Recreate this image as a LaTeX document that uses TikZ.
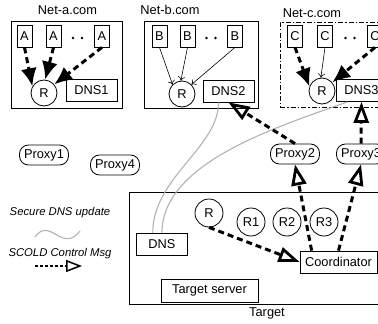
\documentclass[tikz,border=0pt]{standalone}
\usepackage{fontspec}
\setmainfont{Liberation Sans}
\usepackage{tikz}
\usetikzlibrary{arrows.meta, positioning}
\tikzstyle{host} = [rectangle, draw, minimum width=15pt, minimum height=22pt,
                 inner sep=1pt]
\tikzstyle{resolver} = [circle, draw, fill=white, minimum size=26pt, inner sep=0pt]
\tikzstyle{server} = [rectangle, draw, fill=white, minimum width=51pt,
                 minimum height=22pt, inner sep=1pt]
\tikzstyle{proxy} = [rectangle, draw, rounded corners=9pt, minimum width=49pt,
                 minimum height=20pt, inner sep=1pt]
\tikzset{
	netbox/.style={rectangle, draw},
	scold/.style={line width=3pt, dash pattern=on 6pt off 4pt,
		-{Triangle[open, length=21pt, width=15pt, line width=2.8pt]}},
	query/.style={line width=3pt, dash pattern=on 6pt off 4pt,
		-{Latex[length=18pt, width=16pt]}},
	plain/.style={line width=0.6pt, -{To[length=4pt, width=7pt]}},
	update/.style={draw=gray!60, line width=1.1pt},
}

\begin{document}
\begin{tikzpicture}[x=1pt, y=-1pt, line width=0.8pt,
	font=\fontsize{12.8}{15}\selectfont]
\useasboundingbox (0,0) rectangle (378,324);

% domains
\node [netbox, minimum width=111pt, minimum height=87pt] at (66.5,64.5) (neta) {};
\node [netbox, minimum width=114pt, minimum height=87pt] at (201,64.5) (netb) {};
\node [netbox, dash pattern=on 5pt off 2pt on 1.5pt off 2pt,
	minimum width=115pt, minimum height=85pt] at (337.5,64.5) (netc) {};
\node at (67.5,10) (netalabel) {Net-a.com};
\node at (170,10) (netblabel) {Net-b.com};
\node at (312,13) (netclabel) {Net-c.com};

\foreach \n/\x in {1/24.5, 2/53.5, 3/102}
	\node [host] at (\x,36) (a\n) {A};
\foreach \n/\x in {1/159.5, 2/187.5, 3/235}
	\node [host] at (\x,36) (b\n) {B};
\foreach \n/\x in {1/295, 2/325, 3/375}
	\node [host] at (\x,36) (c\n) {C};
\foreach \x in {73, 82, 206.5, 215.5, 345.5, 354.5}
	\fill (\x,38) circle (1.3pt);

\node [resolver] at (44,93) (ra) {R};
\node [resolver] at (182,94) (rb) {R};
\node [resolver] at (322,91) (rc) {R};
\node [server] at (91.5,90.5) (dns1) {DNS1};
\node [server] at (228.5,91) (dns2) {DNS2};
\node [server] at (361.5,90.5) (dns3) {DNS3};

\draw [query] (a1.south) -- (ra.150);
\draw [query] (a2.south) -- (ra.85);
\draw [query] (a3.south) -- (ra.40);
\draw [plain] (b1.south) -- (rb.135);
\draw [plain] (b2.south) -- (rb.95);
\draw [plain] (b3.south) -- (rb.45);
\draw [query] (c1.south) -- (rc.160);
\draw [plain] (c2.south) -- (rc.95);
\draw [query] (c3.south) -- (rc.40);

% proxies
\node [proxy] at (44,155) (proxy1) {Proxy1};
\node [proxy] at (115,165) (proxy4) {Proxy4};
\node [proxy] at (295,154) (proxy2) {Proxy2};
\node [proxy] at (361,154) (proxy3) {Proxy3};

% target
\node [netbox, minimum width=276pt, minimum height=112pt] at (267,248) (target) {};
\node at (267,313) (targetlabel) {Target};
\node [server] at (162,244) (dns) {DNS};
\node [server, minimum width=97pt, minimum height=23pt] at (209.5,290.5) (tserver) {Target server};
\node [resolver, minimum size=28pt] at (209,213) (rt) {R};
\foreach \n/\x in {1/251, 2/287, 3/324}
	\node [resolver, minimum size=28pt] at (\x,222) (r\n) {R\n};
\node [server, minimum width=77pt] at (338.5,262) (coord) {Coordinator};

\draw [update] (dns.129) .. controls +(0,-55) and +(0,45) .. (dns2.229);
\draw [update] (dns.north) .. controls +(0,-70) and +(-70,25) .. (dns3.219);

\draw [scold] (proxy2.north) -- (dns2.south);
\draw [scold] (proxy3.north) -- (dns3.south);
\draw [scold] (coord.157) -- (proxy2.south);
\draw [scold] (coord.north) -- (proxy3.south);
\draw [scold] (rt.south) -- (coord.west);

% legend
\node [font=\fontsize{11.3}{13}\selectfont\itshape] at (60,213) (updatetext) {Secure DNS update};
\draw [update] (35,237) .. controls (50,216) and (62,254) .. (80,231);
\node [font=\fontsize{11.3}{13}\selectfont\itshape] at (60,254) (scoldtext) {SCOLD Control Msg};
\coordinate (lgs) at (35,266);
\coordinate (lge) at (82,266);
\draw [line width=1.2pt, dash pattern=on 3pt off 2pt,
	-{Triangle[open, length=16pt, width=12pt, line width=1.5pt]}] (lgs) -- (lge);

\end{tikzpicture}
\end{document}
